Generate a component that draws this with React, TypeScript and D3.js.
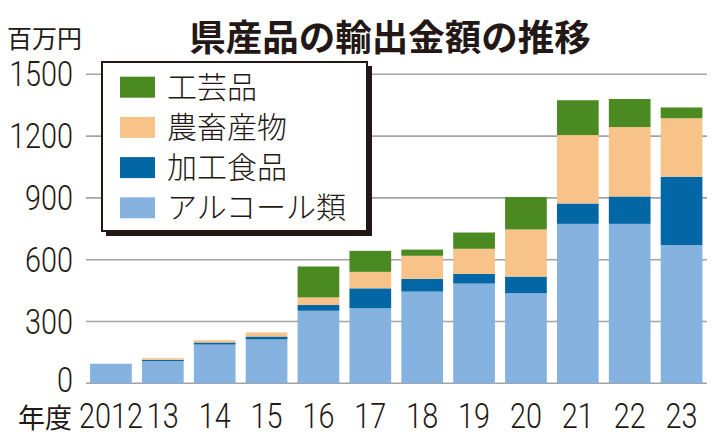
import React from "react";
import * as d3 from "d3";

const years = ["2012", "13", "14", "15", "16", "17", "18", "19", "20", "21", "22", "23"];
const alcohol = [95, 108, 188, 213, 352, 364, 445, 484, 437, 774, 774, 671];
const processed = [0, 6, 10, 14, 28, 97, 62, 47, 81, 99, 133, 332];
const agri = [0, 8, 11, 20, 37, 80, 112, 122, 229, 332, 337, 284];
const craft = [0, 0, 0, 0, 150, 102, 30, 79, 157, 169, 136, 52];
const yTicks = [0, 300, 600, 900, 1200, 1500];

const seriesNames = ["アルコール類", "加工食品", "農畜産物", "工芸品"];
const seriesKeys = ["alcohol", "processed", "agri", "craft"];
const colors = ["#86b2df", "#0467a5", "#f8c389", "#4b8a21"];

const W = 720;
const H = 444;
const TXT = "#231815";
const FONT = "'Noto Sans CJK JP', 'Noto Sans', sans-serif";
const NUMFONT = "Roboto, 'Noto Sans', sans-serif";

export default function App() {
  const rows = years.map((y, i) => ({
    year: y,
    alcohol: alcohol[i],
    processed: processed[i],
    agri: agri[i],
    craft: craft[i],
  }));
  const stack = d3.stack<any>().keys(seriesKeys)(rows);

  const x = d3.scaleBand().domain(years).range([85, 707.5]).paddingInner(0.196).paddingOuter(0.098);
  const y = d3.scaleLinear().domain([0, 1500]).range([383.3, 74.3]);

  const legendOrder = [3, 2, 1, 0];

  return (
    <svg width={W} height={H} style={{ position: "absolute", left: 0, top: 0, background: "#fff" }}>
      <rect x={0} y={0} width={W} height={H} fill="#fff" />
      {/* title */}
      <text x={390} y={51} textAnchor="middle" fontFamily={FONT} fontWeight={700} fontSize={36.5} fill={TXT}>
        県産品の輸出金額の推移
      </text>
      <text x={7} y={48} fontFamily={FONT} fontSize={25} fill={TXT}>
        百万円
      </text>
      {/* gridlines */}
      {yTicks.map((t) => (
        <line key={t} x1={86} x2={707} y1={y(t)} y2={y(t)} stroke="#a3a3a3" strokeWidth={1.6} />
      ))}
      {/* y labels */}
      {yTicks.map((t) => (
        <text
          key={"l" + t}
          transform={`translate(73,${y(t) + (t === 0 ? 8.5 : 12)}) scale(0.8,1)`}
          textAnchor="end"
          fontFamily={NUMFONT}
          fontSize={36}
          fontWeight={300}
          fill={TXT}
        >
          {t}
        </text>
      ))}
      {/* bars */}
      {stack.map((s, si) => (
        <g key={s.key} fill={colors[si]}>
          {s.map((d, i) =>
            d[1] - d[0] > 0 ? (
              <rect
                key={i}
                x={x(years[i])!}
                width={x.bandwidth()}
                y={y(d[1])}
                height={y(d[0]) - y(d[1])}
              />
            ) : null
          )}
        </g>
      ))}
      {/* x labels */}
      <text x={18} y={428} fontFamily={FONT} fontSize={27} fill={TXT}>
        年度
      </text>
      {years.map((yr) => (
        <text
          key={"x" + yr}
          transform={`translate(${x(yr)! + x.bandwidth() / 2},428) scale(0.8,1)`}
          textAnchor="middle"
          fontFamily={NUMFONT}
          fontSize={36}
          fontWeight={300}
          fill={TXT}
        >
          {yr}
        </text>
      ))}
      {/* legend */}
      <rect x={106} y={66} width={266} height={170} fill="#231815" />
      <rect x={102} y={62} width={265} height={169} fill="#fff" stroke="#231815" strokeWidth={2} />
      {legendOrder.map((si, k) => (
        <g key={"lg" + si}>
          <rect x={120} y={76.7 + k * 40.2} width={35} height={21} fill={colors[si]} />
          <text x={167} y={97.5 + k * 40.2} fontFamily={FONT} fontSize={30} fontWeight={300} fill={TXT}>
            {seriesNames[si]}
          </text>
        </g>
      ))}
    </svg>
  );
}
